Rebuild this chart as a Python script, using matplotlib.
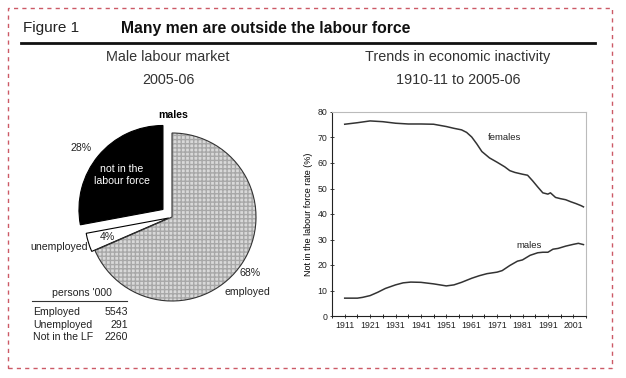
import matplotlib.pyplot as plt
from matplotlib.patches import Wedge, Rectangle
from matplotlib.lines import Line2D

plt.rcParams['font.family'] = ['Liberation Sans', 'DejaVu Sans']

# pie data (persons '000)
pie_labels = ['Employed', 'Unemployed', 'Not in the LF']
pie_values = [5543, 291, 2260]
pie_pcts = ['68%', '4%', '28%']

# inactivity trend data
years_f = [1911, 1916, 1921, 1926, 1931, 1936, 1941, 1946, 1951, 1954, 1957, 1959,
           1961, 1963, 1965, 1968, 1971, 1974, 1976, 1978, 1981, 1983, 1985, 1987,
           1989, 1991, 1992, 1994, 1996, 1998, 2000, 2002, 2004, 2005]
females = [75.2, 75.8, 76.5, 76.2, 75.6, 75.3, 75.3, 75.2, 74.3, 73.6, 73.0, 72.0,
           70.2, 67.5, 64.5, 62.0, 60.3, 58.5, 57.0, 56.3, 55.6, 55.2, 53.0, 50.6,
           48.3, 47.8, 48.3, 46.5, 46.0, 45.6, 44.8, 44.1, 43.3, 42.8]
years_m = [1911, 1916, 1918, 1921, 1924, 1927, 1931, 1934, 1937, 1941, 1946, 1951,
           1954, 1957, 1961, 1964, 1967, 1971, 1973, 1976, 1979, 1981, 1984, 1987,
           1989, 1991, 1993, 1995, 1998, 2001, 2003, 2005]
males = [7.0, 7.0, 7.3, 8.0, 9.3, 10.8, 12.2, 13.0, 13.3, 13.2, 12.6, 11.8,
         12.2, 13.2, 14.8, 15.8, 16.6, 17.2, 17.8, 19.8, 21.5, 22.0, 23.8, 24.8,
         25.0, 25.0, 26.2, 26.5, 27.4, 28.1, 28.5, 28.0]
tick_years = list(range(1911, 2002, 10))

W, H = 626, 378
fig = plt.figure(figsize=(W / 100, H / 100), dpi=100)


def fx(x):
    return x / W


def fy(y):
    return 1 - y / H


def txt(x, y, s, **kw):
    fig.text(fx(x), fy(y), s, **kw)


# dashed frame + header
fig.patches.append(Rectangle((fx(8), fy(368)), fx(604), 360 / H, transform=fig.transFigure,
                             fill=False, ec='#cc5a66', lw=1.0, ls=(0, (3, 3))))
fig.lines.append(Line2D([fx(21), fx(595)], [fy(43), fy(43)], transform=fig.transFigure,
                        color='#111111', lw=2))
txt(23, 28, 'Figure 1', fontsize=11, va='center', color='#222222')
txt(121, 28, 'Many men are outside the labour force', fontsize=11.3, fontweight='bold',
    va='center', color='#111111')
txt(168, 57, 'Male labour market', fontsize=10.4, ha='center', va='center', color='#333333')
txt(168, 80, '2005-06', fontsize=10.4, ha='center', va='center', color='#333333')
txt(458, 57, 'Trends in economic inactivity', fontsize=10.4, ha='center', va='center', color='#333333')
txt(458, 80, '1910-11 to 2005-06', fontsize=10.4, ha='center', va='center', color='#333333')

# pie: 1 data unit = 84 px, centre at (172, 217)
r_px, cx, cy = 84, 172, 217
l, rgt, t, b = 20, 300, 100, 360
pax = fig.add_axes([fx(l), fy(b), (rgt - l) / W, (b - t) / H])
wedges, _ = pax.pie(pie_values, startangle=90, counterclock=False,
                    explode=[0, 0.04, 0.14], colors=['#d9d9d9', 'white', 'black'],
                    wedgeprops=dict(edgecolor='black', linewidth=0.8))
pax.set_aspect('auto')
pax.set_xlim((l - cx) / r_px, (rgt - cx) / r_px)
pax.set_ylim((cy - b) / r_px, (cy - t) / r_px)
pax.axis('off')
emp = wedges[0]
emp.set_edgecolor('#a8a8a8')
emp.set_linewidth(0)
emp.set_hatch('++++')
pax.add_patch(Wedge(emp.center, emp.r, emp.theta1, emp.theta2, fill=False,
                    ec='#333333', lw=0.8))

fs = 7.6
txt(173, 115, 'males', fontsize=fs, fontweight='bold', ha='center', va='center')
txt(81, 148, pie_pcts[2], fontsize=fs, ha='center', va='center', color='#222222')
txt(122, 175, 'not in the\nlabour force', fontsize=fs, ha='center', va='center',
    color='white', linespacing=1.35)
txt(88, 247, 'unemployed', fontsize=fs, ha='right', va='center', color='#222222')
txt(107, 237, pie_pcts[1], fontsize=fs, ha='center', va='center', color='#222222')
txt(250, 273, pie_pcts[0], fontsize=fs, ha='center', va='center', color='#222222')
txt(247, 292, 'employed', fontsize=fs, ha='center', va='center', color='#222222')

# small table
txt(82, 293, "persons '000", fontsize=fs, ha='center', va='center', color='#222222')
fig.lines.append(Line2D([fx(32), fx(127)], [fy(301), fy(301)], transform=fig.transFigure,
                        color='#333333', lw=0.8))
for i, (lab, v) in enumerate(zip(pie_labels, pie_values)):
    y = 312 + i * 12.5
    txt(33, y, lab, fontsize=fs, va='center', color='#222222')
    txt(128, y, str(v), fontsize=fs, ha='right', va='center', color='#222222')

# line chart
ax = fig.add_axes([fx(332), fy(316), (586 - 332) / W, (316 - 112) / H])
ax.plot(years_f, females, color='#333333', lw=1.1)
ax.plot(years_m, males, color='#333333', lw=1.1)
ax.set_xlim(1910.3, 2005.5)
ax.set_ylim(0, 80)
ax.set_xticks(tick_years)
ax.set_xticks(range(1906, 2007, 5), minor=True)
ax.set_yticks(range(0, 81, 10))
ax.tick_params(axis='both', labelsize=6.3, length=3, width=0.6, direction='inout', pad=2,
               colors='#222222')
ax.tick_params(axis='x', which='minor', length=3, width=0.6, direction='inout')
for s in ['top', 'right']:
    ax.spines[s].set_color('#bbbbbb')
    ax.spines[s].set_linewidth(0.8)
for s in ['left', 'bottom']:
    ax.spines[s].set_color('#222222')
    ax.spines[s].set_linewidth(0.8)
ax.set_ylabel('Not in the labour force rate (%)', fontsize=6.5, labelpad=3)
ax.text(1967.5, 70, 'females', fontsize=6.8, color='#222222', va='center')
ax.text(1978.5, 27.5, 'males', fontsize=6.8, color='#222222', va='center')

fig.savefig('out.png', dpi=100)
